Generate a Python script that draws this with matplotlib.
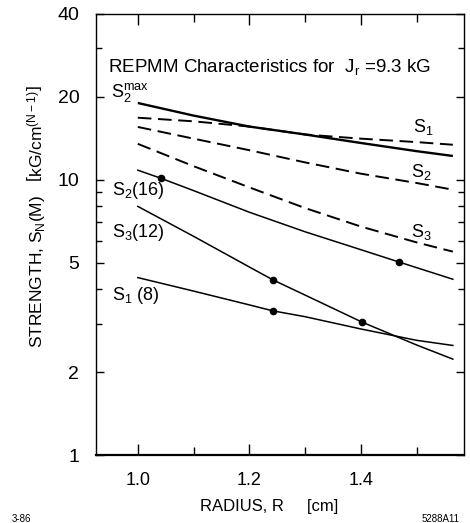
import matplotlib
matplotlib.use('Agg')
import matplotlib.pyplot as plt
from matplotlib.ticker import FixedLocator, FixedFormatter, NullFormatter

plt.rcParams['font.family'] = ['Liberation Sans', 'DejaVu Sans']
plt.rcParams['mathtext.fontset'] = 'custom'
plt.rcParams['mathtext.rm'] = 'Liberation Sans'
plt.rcParams['mathtext.it'] = 'Liberation Sans'
plt.rcParams['mathtext.bf'] = 'Liberation Sans:bold'
plt.rcParams['mathtext.default'] = 'rm'

# ---- data ----
radius_grid = [1.0, 1.1, 1.2, 1.3, 1.4, 1.5, 1.565]
s2_max = [19.0, 17.1, 15.6, 14.6, 13.6, 12.7, 12.2]
s1_dashed = [16.8, 16.3, 15.6, 14.6, 14.1, 13.7, 13.4]
s2_dashed = [15.55, 14.1, 12.8, 11.56, 10.52, 9.73, 9.2]
s3_dashed = [13.5, 11.2, 9.38, 7.89, 6.76, 5.92, 5.48]

radius_s2_16 = [1.0, 1.041, 1.1, 1.2, 1.3, 1.4, 1.469, 1.565]
s2_16 = [10.83, 10.13, 9.13, 7.62, 6.47, 5.57, 5.02, 4.35]
dots_s2_16 = [1, 6]

radius_s3_12 = [1.0, 1.1, 1.2, 1.242, 1.3, 1.402, 1.5, 1.565]
s3_12 = [8.0, 6.23, 4.82, 4.33, 3.81, 3.04, 2.51, 2.23]
dots_s3_12 = [3, 5]

radius_s1_8 = [1.0, 1.1, 1.2, 1.242, 1.3, 1.4, 1.5, 1.565]
s1_8 = [4.41, 3.94, 3.51, 3.34, 3.18, 2.87, 2.61, 2.50]
dots_s1_8 = [3]

y_major = [1, 2, 5, 10, 20, 40]
y_major_labels = ['1', '2', '5', '10', '20', '40']
y_minor = [3, 4, 6, 7, 8, 9, 30]
x_major = [1.0, 1.2, 1.4]
x_major_labels = ['1.0', '1.2', '1.4']
x_minor = [1.1, 1.3, 1.5]

# ---- figure ----
fig = plt.figure(figsize=(4.70, 5.23), dpi=100)
ax = fig.add_axes([96 / 470, 1 - 455 / 523, (464 - 96) / 470, (455 - 14) / 523])
ax.set_yscale('log')
ax.set_xlim(0.925, 1.585)
ax.set_ylim(1, 40)

dash = (0, (7, 3.4))
ax.plot(radius_grid, s2_max, color='black', lw=1.7, solid_capstyle='butt')
ax.plot(radius_grid, s1_dashed, color='black', lw=1.4, linestyle=dash)
ax.plot(radius_grid, s2_dashed, color='black', lw=1.4, linestyle=dash)
ax.plot(radius_grid, s3_dashed, color='black', lw=1.4, linestyle=dash)

ax.plot(radius_s2_16, s2_16, color='black', lw=1.1, marker='o', ms=4.5,
        markevery=dots_s2_16)
ax.plot(radius_s3_12, s3_12, color='black', lw=1.1, marker='o', ms=4.5,
        markevery=dots_s3_12)
ax.plot(radius_s1_8, s1_8, color='black', lw=1.1, marker='o', ms=4.5,
        markevery=dots_s1_8)

# ticks
ax.yaxis.set_major_locator(FixedLocator(y_major))
ax.yaxis.set_major_formatter(FixedFormatter(y_major_labels))
ax.yaxis.set_minor_locator(FixedLocator(y_minor))
ax.yaxis.set_minor_formatter(NullFormatter())
ax.xaxis.set_major_locator(FixedLocator(x_major))
ax.xaxis.set_major_formatter(FixedFormatter(x_major_labels))
ax.xaxis.set_minor_locator(FixedLocator(x_minor))
ax.tick_params(axis='both', which='both', direction='in', top=True, right=True,
               color='black', width=1.0)
ax.tick_params(axis='y', which='major', length=6, labelsize=14, pad=12)
ax.tick_params(axis='y', which='minor', length=4)
ax.tick_params(axis='x', which='major', length=8, labelsize=13, pad=12)
ax.tick_params(axis='x', which='minor', length=6)
for s in ax.spines.values():
    s.set_linewidth(1.0)
ax.spines['bottom'].set_linewidth(1.6)

# curve labels
fs = 13
ax.text(0.9515, 20.0, r'S$_2^{max}$', fontsize=fs, ha='left', va='baseline')
ax.text(1.494, 14.9, r'S$_1$', fontsize=fs, ha='left', va='baseline')
ax.text(1.490, 10.2, r'S$_2$', fontsize=fs, ha='left', va='baseline')
ax.text(1.490, 6.2, r'S$_3$', fontsize=fs, ha='left', va='baseline')
ax.text(0.953, 8.82, r'S$_2$(16)', fontsize=fs, ha='left', va='baseline')
ax.text(0.953, 6.2, r'S$_3$(12)', fontsize=fs, ha='left', va='baseline')
ax.text(0.953, 3.66, r'S$_1$ (8)', fontsize=fs, ha='left', va='baseline')

fig.text(108 / 470, 1 - 72 / 523, r'REPMM Characteristics for  J$_r$ =9.3 kG',
         fontsize=13.5, ha='left', va='baseline')

fig.text(269 / 470, 1 - 507 / 523, 'RADIUS, R     [cm]', fontsize=12,
         ha='center', va='center')
fig.text(37 / 470, 1 - 217 / 523,
         r'STRENGTH, S$_N$(M)   $\left[\mathrm{kG/cm}^{(N-1)}\right]$',
         fontsize=12.5, rotation=90, ha='center', va='center')

fig.text(12 / 470, 1 - 519 / 523, '3-86', fontsize=7, ha='left', va='center')
fig.text(460 / 470, 1 - 519 / 523, '5288A11', fontsize=7, ha='right', va='center')

fig.savefig('out.png', dpi=100)
